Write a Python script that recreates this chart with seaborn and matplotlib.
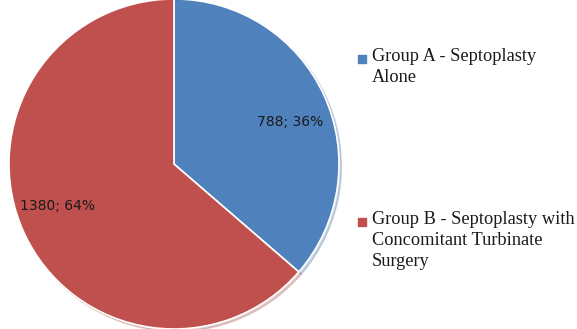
import matplotlib
matplotlib.use("Agg")
import matplotlib.pyplot as plt
import seaborn as sns
import numpy as np
from matplotlib.patches import Rectangle

groups = ["Group A - Septoplasty\nAlone",
          "Group B - Septoplasty with\nConcomitant Turbinate\nSurgery"]
counts = [788, 1380]
percents = [36, 64]
colors = ["#4F81BD", "#C0504D"]

sns.set_style("white")
plt.rcParams['font.family'] = ['DejaVu Sans']

fig = plt.figure(figsize=(5.77, 3.29), dpi=100)
W, H = 577, 329
cx, cy, r = 174, 164, 165
ax = fig.add_axes([(cx - r) / W, (H - cy - r) / H, 2 * r / W, 2 * r / H])

pal = sns.color_palette(colors)
labels_txt = [f"{c}; {p}%" for c, p in zip(counts, percents)]
wedges, _ = ax.pie(counts, startangle=90, counterclock=False, colors=pal,
                   radius=1.0,
                   wedgeprops=dict(edgecolor="white", linewidth=1.2),
                   shadow=dict(ox=0.01, oy=-0.01, shade=0.2, alpha=0.25))
ax.set_xlim(-1.0, 1.0)
ax.set_ylim(-1.0, 1.0)
ax.set_aspect("auto")
ax.axis("off")
for w, t in zip(wedges, labels_txt):
    ang = np.deg2rad((w.theta1 + w.theta2) / 2 - 4.5)
    ax.text(0.75 * np.cos(ang), 0.75 * np.sin(ang), t, ha="center", va="center",
            fontsize=10, color="#1a1a1a")

# legend
serif = ['Liberation Serif', 'DejaVu Serif']
ypos = [59, 222]
for g, col, y in zip(groups, colors, ypos):
    fig.patches.append(Rectangle((358 / W, 1 - (y + 4) / H), 8 / W, 8 / H,
                                 transform=fig.transFigure, color=col))
    fig.text(372 / W, 1 - (y - 11) / H, g, ha="left", va="top",
             fontsize=13.2, family=serif, linespacing=1.3, color="#1a1a1a")

fig.savefig("out.png", dpi=100)
